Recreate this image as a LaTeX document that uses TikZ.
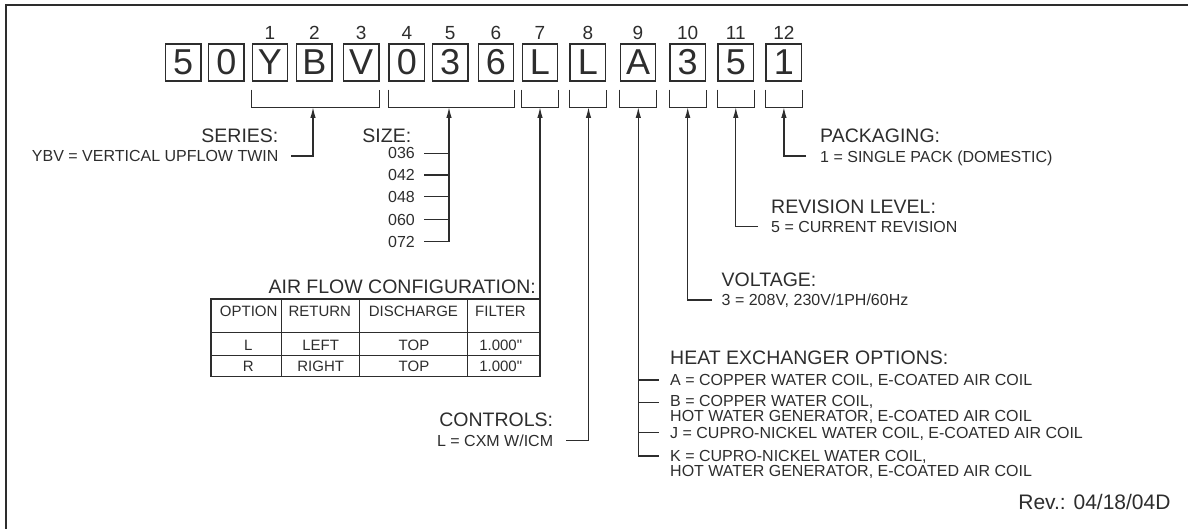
\documentclass[tikz,border=0pt]{standalone}
\usepackage{fontspec}
\setmainfont{Liberation Sans}
\usetikzlibrary{arrows.meta,calc}
\definecolor{ink}{RGB}{45,45,45}
\begin{document}
\begin{tikzpicture}[x=1pt,y=-1pt,
  cbox/.style={draw=ink, line width=1.4pt, minimum width=35.5pt, minimum height=37pt, inner sep=0pt, text=ink, font=\fontsize{36}{36}\selectfont},
  posnum/.style={inner sep=0pt, text=ink, font=\fontsize{19}{19}\selectfont, anchor=south},
  head/.style={inner sep=0pt, text=ink, font=\fontsize{19.5}{20}\selectfont},
  sub/.style={inner sep=0pt, text=ink, font=\fontsize{16}{15}\selectfont},
  tcell/.style={inner sep=0pt, text=ink, font=\fontsize{15}{15}\selectfont, anchor=base},
  conn/.style={draw=ink, line width=1.3pt},
  arr/.style={conn, -{Latex[length=11pt,width=5.5pt]}},
  grid/.style={draw=ink, line width=1.3pt}
]
\useasboundingbox (0,0) rectangle (1188,529);
% frame
\draw[ink, line width=2.5pt] (6,529) -- (6,5) -- (1188,5);

% character boxes
\foreach \n/\c/\t in {1/183.2/5, 2/226.4/0, 3/270/Y, 4/314.3/B, 5/361.2/V, 6/406.8/0, 7/450.2/3, 8/496/6, 9/540/L, 10/587.9/L, 11/638/A, 12/687.7/3, 13/735.8/5, 14/783.9/1}
  \node[cbox] (b\n) at (\c,62.5) {\t};

% position numbers
\foreach \n in {1,...,12}{
  \pgfmathtruncatemacro{\bb}{\n+2}
  \node[posnum] (p\n) at ($(b\bb.north)+(0,-3.3)$) {\n};
}

% brackets
\foreach \a/\b/\k/\x in {3/5/ser/313, 6/8/siz/449, 9/9/afl/540, 10/10/ctl/588.5, 11/11/hex/638.3, 12/12/vol/687.7, 13/13/rev/735.8, 14/14/pak/783.9}{
  \draw[conn] ($(b\a.south west)+(0,8)$) -- ($(b\a.south west)+(0,26)$) -- ($(b\b.south east)+(0,26)$) -- ($(b\b.south east)+(0,8)$);
  \coordinate (k\k) at (\x,107);
}

% SERIES
\node[head, anchor=base east] (serH) at (278.6,143) {SERIES:};
\node[sub, anchor=base east] (serT) at (278.6,161.7) {YBV = VERTICAL UPFLOW TWIN};
\coordinate (serE) at (291,156);
\draw[arr] (serE) -- (313,156) -- (kser);

% SIZE
\node[head, anchor=base east] (sizH) at (411.4,143) {SIZE:};
\foreach \v/\y [count=\i] in {036/153.3, 042/175, 048/196.7, 060/219.5, 072/241.7}{
  \node[sub, anchor=base east] (sz\i) at (415,\y+5.7) {\v};
  \coordinate (szt\i) at (424,\y);
  \draw[conn] (szt\i) -- (449,\y);
}
\draw[arr] (449,241.7) -- (ksiz);

% AIR FLOW CONFIGURATION
\node[head, anchor=base east] (afH) at (536,293) {AIR FLOW CONFIGURATION:};
\coordinate (tNE) at (540,299);
\coordinate (tSW) at (211,376.7);
\draw[grid] (tSW) rectangle (tNE);
\draw[grid] (211,332.3) -- (540,332.3);
\draw[grid] (211,355.7) -- (540,355.7);
\foreach \x in {281.7,359.3,467.7} \draw[grid] (\x,299) -- (\x,376.7);
\node[tcell] (h1) at (248.7,316.4) {OPTION};
\node[tcell] (h2) at (319.8,316.4) {RETURN};
\node[tcell] (h3) at (413.4,316.4) {DISCHARGE};
\node[tcell] (h4) at (500.5,316.4) {FILTER};
\node[tcell] (r11) at (248.3,350.4) {L};
\node[tcell] (r12) at (320.7,350.4) {LEFT};
\node[tcell] (r13) at (414,350.4) {TOP};
\node[tcell] (r14) at (500.7,350.4) {1.000\textquotedbl};
\node[tcell] (r21) at (248.3,371.1) {R};
\node[tcell] (r22) at (320.7,371.1) {RIGHT};
\node[tcell] (r23) at (414,371.1) {TOP};
\node[tcell] (r24) at (500.7,371.1) {1.000\textquotedbl};
\draw[arr] (tNE) -- (kafl);

% CONTROLS
\node[head, anchor=base east] (ctlH) at (553.3,426.3) {CONTROLS:};
\node[sub, anchor=base east] (ctlT) at (553.3,446.4) {L = CXM W/ICM};
\coordinate (ctlE) at (566,440.7);
\draw[arr] (ctlE) -- (588.5,440.7) -- (kctl);

% HEAT EXCHANGER
\node[head, anchor=base west] (hexH) at (670,364.3) {HEAT EXCHANGER OPTIONS:};
\node[sub, anchor=base west] (hA) at (670,385.7) {A = COPPER WATER COIL, E-COATED AIR COIL};
\node[sub, anchor=base west] (hB1) at (670,406.7) {B = COPPER WATER COIL,};
\node[sub, anchor=base west] (hB2) at (670,421.5) {HOT WATER GENERATOR, E-COATED AIR COIL};
\node[sub, anchor=base west] (hJ) at (670,438.2) {J = CUPRO-NICKEL WATER COIL, E-COATED AIR COIL};
\node[sub, anchor=base west] (hK1) at (670,461.4) {K = CUPRO-NICKEL WATER COIL,};
\node[sub, anchor=base west] (hK2) at (670,476.4) {HOT WATER GENERATOR, E-COATED AIR COIL};
\foreach \y in {380,402.3,432.3,456} \draw[conn] (638.3,\y) -- (659,\y);
\draw[arr] (638.3,456) -- (khex);

% VOLTAGE
\node[head, anchor=base west] (volH) at (721.5,287) {VOLTAGE:};
\node[sub, anchor=base west] (volT) at (721.5,305.7) {3 = 208V, 230V/1PH/60Hz};
\coordinate (volE) at (712,300);
\draw[arr] (volE) -- (687.7,300) -- (kvol);

% REVISION LEVEL
\node[head, anchor=base west] (revH) at (771,213.7) {REVISION LEVEL:};
\node[sub, anchor=base west] (revT) at (771,232.4) {5 = CURRENT REVISION};
\coordinate (revE) at (758,226.7);
\draw[arr] (revE) -- (735.8,226.7) -- (krev);

% PACKAGING
\node[head, anchor=base west] (pakH) at (820,143) {PACKAGING:};
\node[sub, anchor=base west] (pakT) at (820,162.4) {1 = SINGLE PACK (DOMESTIC)};
\coordinate (pakE) at (806,156);
\draw[arr] (pakE) -- (783.9,156) -- (kpak);

% revision note
\node[inner sep=0pt, text=ink, font=\fontsize{21}{21}\selectfont, anchor=base east] (revnote) at (1170.7,509.5) {Rev.: 04/18/04D};
\end{tikzpicture}
\end{document}
